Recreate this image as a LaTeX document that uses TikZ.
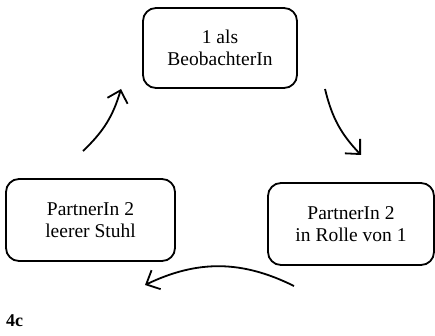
\documentclass[tikz,border=0pt]{standalone}
\usepackage{fontspec}
\setmainfont{Liberation Serif}
\usetikzlibrary{arrows.meta}
\usetikzlibrary{positioning}

\begin{document}
\begin{tikzpicture}[x=1pt,y=-1pt]
	\useasboundingbox (0,0) rectangle (435,336);
	\begin{scope}[every node/.style={draw, rounded corners=13pt, line width=1.8pt, align=center, inner sep=0pt, font=\fontsize{19.5}{22.5}\selectfont}]
		\node[minimum width=154pt, minimum height=80pt] (beob) at (220,48) {1 als\\BeobachterIn};
		\node[minimum width=169pt, minimum height=82pt] (leer) at (90.5,220) {PartnerIn 2\\leerer Stuhl};
		\node[minimum width=166pt, minimum height=82pt] (rolle) at (351,224) {PartnerIn 2\\in Rolle von 1};
	\end{scope}

	% Pfeile im Kreis
	\coordinate (a1) at (325,89);
	\coordinate (b1) at (361,155);
	\coordinate (a2) at (294,286);
	\coordinate (b2) at (145,285);
	\coordinate (a3) at (83,151);
	\coordinate (b3) at (121,89);
	\begin{scope}[>={Straight Barb[length=11pt, width=21pt]},
	              every edge/.style={draw=black, line width=1.8pt, ->}]
		\path (a1) edge[bend right=15] (b1);
		\path (a2) edge[bend right=26] (b2);
		\path (a3) edge[bend right=15] (b3);
	\end{scope}

	\node[anchor=base west, inner sep=0pt, font=\fontsize{18}{20}\selectfont\bfseries] (nr) at (6,326) {4c};
\end{tikzpicture}
\end{document}
